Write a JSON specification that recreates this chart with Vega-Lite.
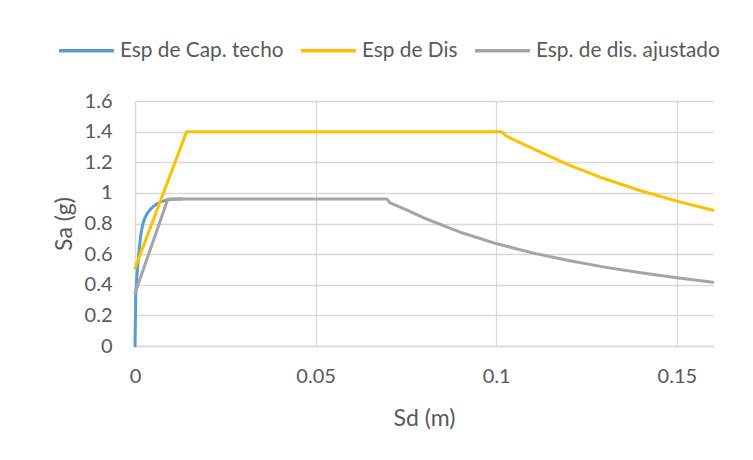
{
  "$schema": "https://vega.github.io/schema/vega-lite/v6.json",
  "autosize": "none",
  "width": 578,
  "height": 245,
  "padding": {"left": 135, "top": 101, "right": 40, "bottom": 114},
  "background": "white",
  "config": {
    "font": "Lato",
    "view": {"stroke": null},
    "axis": {
      "gridColor": "#d9d9d9",
      "gridWidth": 1.3,
      "domainColor": "#d9d9d9",
      "domainWidth": 1.3,
      "ticks": false,
      "labelFont": "Lato",
      "labelFontSize": 20,
      "labelColor": "#595959",
      "titleFont": "Lato",
      "titleFontSize": 23,
      "titleFontWeight": "normal",
      "titleColor": "#595959"
    }
  },
  "data": {
    "values": [
      {"serie": "Esp de Cap. techo", "sd": 0.0, "sa": 0.0},
      {"serie": "Esp de Cap. techo", "sd": 0.0001, "sa": 0.15},
      {"serie": "Esp de Cap. techo", "sd": 0.0002, "sa": 0.33},
      {"serie": "Esp de Cap. techo", "sd": 0.0005, "sa": 0.45},
      {"serie": "Esp de Cap. techo", "sd": 0.0008, "sa": 0.53},
      {"serie": "Esp de Cap. techo", "sd": 0.0012, "sa": 0.64},
      {"serie": "Esp de Cap. techo", "sd": 0.0016, "sa": 0.725},
      {"serie": "Esp de Cap. techo", "sd": 0.0021, "sa": 0.79},
      {"serie": "Esp de Cap. techo", "sd": 0.0027, "sa": 0.834},
      {"serie": "Esp de Cap. techo", "sd": 0.0035, "sa": 0.87},
      {"serie": "Esp de Cap. techo", "sd": 0.0045, "sa": 0.899},
      {"serie": "Esp de Cap. techo", "sd": 0.0058, "sa": 0.925},
      {"serie": "Esp de Cap. techo", "sd": 0.0073, "sa": 0.943},
      {"serie": "Esp de Cap. techo", "sd": 0.0091, "sa": 0.955},
      {"serie": "Esp de Cap. techo", "sd": 0.0115, "sa": 0.96},
      {"serie": "Esp de Cap. techo", "sd": 0.013, "sa": 0.96},
      {"serie": "Esp de Dis", "sd": 0.0, "sa": 0.508},
      {"serie": "Esp de Dis", "sd": 0.0143, "sa": 1.4},
      {"serie": "Esp de Dis", "sd": 0.1015, "sa": 1.4},
      {"serie": "Esp de Dis", "sd": 0.1028, "sa": 1.37},
      {"serie": "Esp de Dis", "sd": 0.11, "sa": 1.29},
      {"serie": "Esp de Dis", "sd": 0.12, "sa": 1.183},
      {"serie": "Esp de Dis", "sd": 0.13, "sa": 1.092},
      {"serie": "Esp de Dis", "sd": 0.14, "sa": 1.014},
      {"serie": "Esp de Dis", "sd": 0.15, "sa": 0.946},
      {"serie": "Esp de Dis", "sd": 0.16, "sa": 0.887},
      {"serie": "Esp. de dis. ajustado", "sd": 0.0, "sa": 0.344},
      {"serie": "Esp. de dis. ajustado", "sd": 0.0091, "sa": 0.96},
      {"serie": "Esp. de dis. ajustado", "sd": 0.0697, "sa": 0.96},
      {"serie": "Esp. de dis. ajustado", "sd": 0.0706, "sa": 0.935},
      {"serie": "Esp. de dis. ajustado", "sd": 0.075, "sa": 0.89},
      {"serie": "Esp. de dis. ajustado", "sd": 0.08, "sa": 0.836},
      {"serie": "Esp. de dis. ajustado", "sd": 0.09, "sa": 0.743},
      {"serie": "Esp. de dis. ajustado", "sd": 0.1, "sa": 0.669},
      {"serie": "Esp. de dis. ajustado", "sd": 0.11, "sa": 0.608},
      {"serie": "Esp. de dis. ajustado", "sd": 0.12, "sa": 0.558},
      {"serie": "Esp. de dis. ajustado", "sd": 0.13, "sa": 0.515},
      {"serie": "Esp. de dis. ajustado", "sd": 0.14, "sa": 0.478},
      {"serie": "Esp. de dis. ajustado", "sd": 0.15, "sa": 0.446},
      {"serie": "Esp. de dis. ajustado", "sd": 0.16, "sa": 0.416}
    ]
  },
  "mark": {"type": "line", "strokeWidth": 3, "strokeJoin": "round", "strokeCap": "round"},
  "encoding": {
    "x": {
      "field": "sd",
      "type": "quantitative",
      "title": "Sd (m)",
      "scale": {"domain": [0, 0.16], "nice": false, "zero": true},
      "axis": {"values": [0, 0.05, 0.1, 0.15], "format": "~f", "labelPadding": 20, "titlePadding": 21, "labelFlush": false}
    },
    "y": {
      "field": "sa",
      "type": "quantitative",
      "title": "Sa (g)",
      "scale": {"domain": [0, 1.6], "nice": false},
      "axis": {"values": [0, 0.2, 0.4, 0.6, 0.8, 1, 1.2, 1.4, 1.6], "format": "~f", "labelPadding": 23, "titlePadding": 8}
    },
    "color": {
      "field": "serie",
      "type": "nominal",
      "scale": {
        "domain": ["Esp de Cap. techo", "Esp de Dis", "Esp. de dis. ajustado"],
        "range": ["#5B9BD5", "#FFC000", "#A5A5A5"]
      },
      "legend": {
        "orient": "none",
        "legendX": -78,
        "legendY": -80,
        "direction": "horizontal",
        "title": null,
        "padding": 0,
        "symbolType": "stroke",
        "symbolSize": 3025,
        "symbolStrokeWidth": 3.5,
        "labelFont": "Lato",
        "labelFontSize": 20.8,
        "labelColor": "#595959",
        "labelOffset": 4,
        "labelLimit": 400,
        "columnPadding": 10
      }
    }
  }
}
